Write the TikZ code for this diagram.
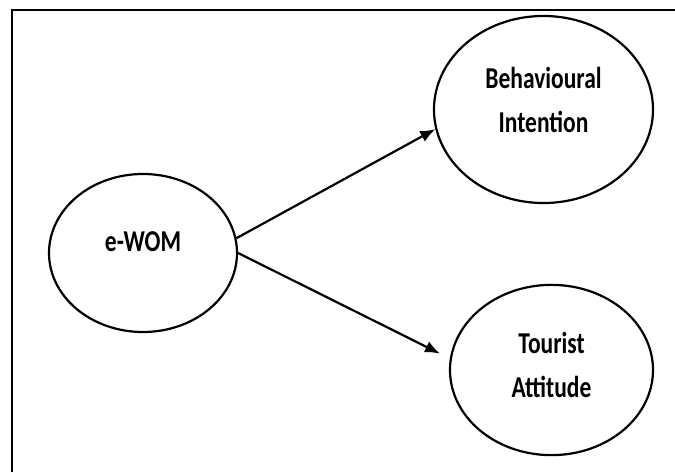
\documentclass[tikz,border=0pt]{standalone}
\usepackage{fontspec}
\setmainfont{Carlito}
\usetikzlibrary{shapes.geometric, arrows.meta}

\begin{document}
\begin{tikzpicture}[
    x=1pt, y=1pt,
    concept/.style = {
        ellipse, draw=black, line width=2.2pt,
        yscale=1.29, transform shape,
        font=\fontsize{23.5}{34}\selectfont\bfseries,
        align=center, inner sep=0pt
    },
    link/.style = {-{Latex[length=15pt, width=12pt]}, line width=2.2pt},
]
\useasboundingbox (0,0) rectangle (675,472);

% frame (left and top edges only)
\draw[line width=1.4pt] (12,0) -- (12,462) -- (675,462);

\node[concept, minimum width=188pt, minimum height=122.5pt, text depth=17pt]
    (ewom) at (143,219) {e-WOM};
\node[concept, minimum width=219pt, minimum height=145pt, text depth=15.5pt]
    (bi) at (543.5,362.5) {Behavioural\\Intention};
\node[concept, minimum width=203pt, minimum height=132pt, text depth=8pt]
    (ta) at (551.5,102) {Tourist\\Attitude};

\draw[link] (ewom.7) -- (bi.188);
\draw[link, shorten >=11pt] (ewom.east) -- (ta.175);

\end{tikzpicture}
\end{document}
